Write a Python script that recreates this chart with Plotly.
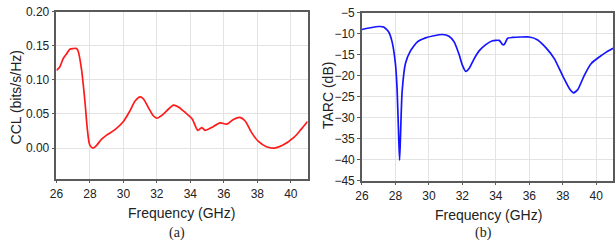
import plotly.graph_objects as go

# CCL data (a)
ccl_freq = [26.0, 26.2, 26.4, 26.6, 26.8, 27.0, 27.2, 27.3, 27.5, 27.7, 27.85, 28.0, 28.2, 28.4, 28.7,
            29.0, 29.5, 30.0, 30.4, 30.7, 31.0, 31.2, 31.5, 31.8, 32.0, 32.3, 32.6, 33.0, 33.3, 33.7,
            34.1, 34.45, 34.68, 34.88, 35.27, 35.78, 36.17, 36.57, 36.96, 37.26, 37.65, 38.05, 38.54,
            39.02, 39.51, 40.2, 40.6, 41.0]
ccl_vals = [0.114, 0.119, 0.131, 0.138, 0.145, 0.146, 0.146, 0.142, 0.115, 0.069, 0.027, 0.004, 0.0, 0.004, 0.013,
            0.019, 0.027, 0.039, 0.055, 0.069, 0.075, 0.072, 0.059, 0.047, 0.044, 0.048, 0.055, 0.063, 0.060, 0.052,
            0.043, 0.026, 0.030, 0.026, 0.030, 0.037, 0.035, 0.042, 0.045, 0.040, 0.023, 0.010, 0.002,
            0.0, 0.004, 0.016, 0.027, 0.039]

# TARC data (b)
tarc_freq = [26.0, 26.5, 27.0, 27.3, 27.6, 27.8, 28.0, 28.1, 28.2, 28.25, 28.3, 28.4, 28.6, 28.9, 29.3,
             29.8, 30.3, 30.8, 31.2, 31.5, 31.8, 32.0, 32.2, 32.4, 32.7, 33.0, 33.4, 33.8, 34.2, 34.4,
             34.5, 34.7, 35.0, 35.5, 36.0, 36.5, 37.0, 37.5, 38.0, 38.4, 38.65, 38.9, 39.3, 39.7, 40.2,
             40.6, 41.0]
tarc_vals = [-9.0, -8.6, -8.3, -8.4, -9.6, -11.9, -17.1, -23.1, -35.0, -40.1, -35.0, -23.9, -17.1, -14.1, -12.0,
             -11.0, -10.5, -10.2, -10.6, -11.9, -14.9, -17.5, -19.0, -18.3, -16.0, -14.1, -12.6, -11.7, -11.6, -12.6,
             -12.6, -11.1, -10.9, -10.8, -10.8, -11.5, -13.4, -16.0, -20.1, -23.1, -24.1, -23.3, -19.8, -17.1, -15.5,
             -14.4, -13.5]

x_ticks = [26, 28, 30, 32, 34, 36, 38, 40]
ccl_ticks = [0.0, 0.05, 0.10, 0.15, 0.20]
tarc_ticks = [-45, -40, -35, -30, -25, -20, -15, -10, -5]

W, H = 615, 248
def px(x):
    return x / W
def py(y):
    return 1 - y / H

FONT = "Liberation Sans, Arial, sans-serif"
AXIS_COL = "#5a5a5a"
GRID_COL = "#e3e3e3"

fig = go.Figure()
fig.add_trace(go.Scatter(x=ccl_freq, y=ccl_vals, mode="lines", xaxis="x", yaxis="y",
                         line=dict(color="#ff1a1a", width=1.7, shape="spline", smoothing=0.8),
                         showlegend=False))
fig.add_trace(go.Scatter(x=tarc_freq, y=tarc_vals, mode="lines", xaxis="x2", yaxis="y2",
                         line=dict(color="#1414ff", width=1.7, shape="spline", smoothing=0.5),
                         showlegend=False))

common_axis = dict(showline=True, linecolor=AXIS_COL, linewidth=1.5, mirror=True,
                   showgrid=True, gridcolor=GRID_COL, gridwidth=1, zeroline=False,
                   ticks="outside", ticklen=3, tickcolor=AXIS_COL, tickwidth=1,
                   ticklabeloverflow="allow",
                   tickfont=dict(family=FONT, size=12, color="#222"))

fig.update_layout(
    width=W, height=H, margin=dict(l=0, r=0, t=0, b=0),
    paper_bgcolor="white", plot_bgcolor="white",
    xaxis=dict(domain=[px(50), px(304)], range=[26, 41], tickvals=x_ticks, anchor="y", **common_axis),
    yaxis=dict(domain=[py(182), py(5)], range=[-0.045, 0.2], tickvals=ccl_ticks, tickformat=".2f",
               anchor="x", **common_axis),
    xaxis2=dict(domain=[px(359), px(613)], range=[26, 41], tickvals=x_ticks, anchor="y2", **common_axis),
    yaxis2=dict(domain=[py(184), py(6)], range=[-45, -5], tickvals=tarc_ticks, anchor="x2", **common_axis),
)

ann = [
    dict(text="CCL (bits/s/Hz)", x=px(9), y=py(96), textangle=-90, font=dict(family=FONT, size=14, color="#222")),
    dict(text="TARC (dB)", x=px(324), y=py(94), textangle=-90, font=dict(family=FONT, size=14, color="#222")),
    dict(text="Frequency (GHz)", x=px(177), y=py(218), font=dict(family=FONT, size=14, color="#222")),
    dict(text="Frequency (GHz)", x=px(487), y=py(220), font=dict(family=FONT, size=14, color="#222")),
    dict(text="(a)", x=px(172), y=py(239), font=dict(family="Liberation Serif, Times New Roman, serif", size=14, color="#222")),
    dict(text="(b)", x=px(482), y=py(239), font=dict(family="Liberation Serif, Times New Roman, serif", size=14, color="#222")),
]
for a in ann:
    a.update(xref="paper", yref="paper", showarrow=False, xanchor="center", yanchor="middle")
    fig.add_annotation(**a)

fig.write_html("out.html", config={"displayModeBar": False},
               post_script="document.body.style.margin='0';")
